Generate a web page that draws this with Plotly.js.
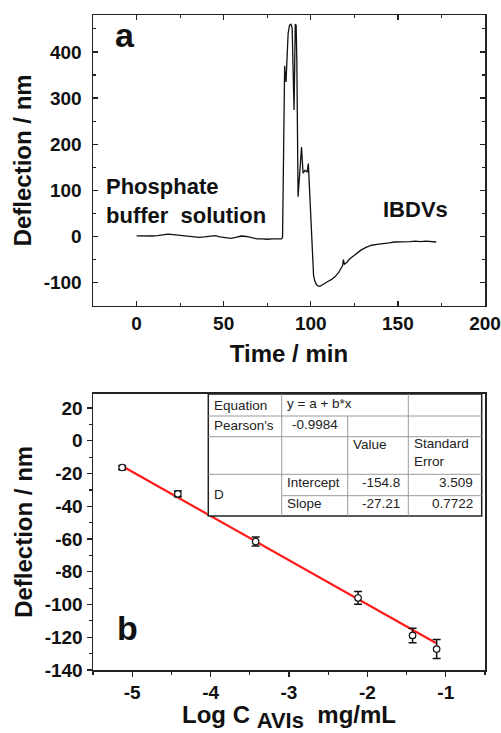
<!DOCTYPE html>
<html>
<head>
<meta charset="utf-8">
<script src="https://cdn.plot.ly/plotly-3.0.1.min.js"></script>
<style>html,body{margin:0;padding:0;background:#fff;}#chart{width:501px;height:733px;}</style>
</head>
<body>
<div id="chart"></div>
<script>
// ---- Panel a: deflection vs time ----
const timeMin = [0,3,6,9,12,15,18,21,24,27,30,33,36,39,42,45,48,51,54,57,60,63,66,69,72,75,78,81,
  83.3,83.8,84.3,84.7,85.0,85.4,85.8,86.3,87.0,87.8,88.6,89.3,89.9,90.4,90.8,91.1,91.6,92.0,92.7,93.5,94.1,94.7,95.2,95.6,96.6,97.9,98.6,99.2,99.8,100.4,101.0,101.6,102.3,103.2,104.2,105.2,106.5,
  108,110,112,114,116,117.5,118.3,118.7,119.3,120.5,122,124.3,126.5,129,132,135,138,141.5,145,148,151,154,157,160,163,166,169,172];
const deflectionA = [1.5,1,0.5,1,2,4,5,4,3,1,0,-1,-2,-1,0,2,-1,-3,-4,-2,1,0,-3,-5,-5,-6,-5,-5,
  -5,-2,150,330,370,345,335,380,440,458,460,452,370,274,380,460,458,380,86,140,180,194,160,137,143,140,158,110,45,7,-65,-85,-96,-104,-107,-108,-105,
  -101,-97,-93,-87,-78,-70,-63,-50,-60,-57,-50,-43,-36,-29,-23,-19,-17,-16,-14,-12,-12,-11,-11,-10,-11,-10,-11,-12];
const xTicksA = [0,50,100,150,200];
const xTickTextA = ["0","50","100","150","200"];
const yTicksA = [-100,0,100,200,300,400];
const yTickTextA = ["-100","0","100","200","300","400"];

// ---- Panel b: calibration ----
const logC = [-5.128,-4.418,-3.425,-2.119,-1.424,-1.117];
const deflectionB = [-16.3,-32.4,-61.5,-96.0,-118.9,-127.2];
const deflectionErr = [1.3,1.7,2.8,3.9,4.4,5.8];
const fitX = [-5.107,-1.126];
const fitY = [-16.0,-123.5];
const xTicksB = [-5,-4,-3,-2,-1];
const xTickTextB = ["-5","-4","-3","-2","-1"];
const yTicksB = [-140,-120,-100,-80,-60,-40,-20,0,20];
const yTickTextB = ["-140","-120","-100","-80","-60","-40","-20","0","20"];

// ---- Fit table text ----
const tableRow1 = ["Equation","y = a + b*x"];
const tableRow2 = ["Pearson's","-0.9984"];
const tableHead = ["Value","Standard<br>Error"];
const tableRowLabel = "D";
const paramNames = ["Intercept","Slope"];
const paramValues = ["-154.8","-27.21"];
const paramErrors = ["3.509","0.7722"];

const FONT = "Liberation Sans, Arial, Helvetica, sans-serif";
const W = 501, H = 733, ML = 93, MR = 16, MT = 15, MB = 63;
const PW = W - ML - MR, PH = H - MT - MB;
const px = v => (v - ML) / PW;
const py = v => (H - MB - v) / PH;

const traces = [
  {x: timeMin, y: deflectionA, xaxis:'x', yaxis:'y', mode:'lines',
   line:{color:'#111', width:1.3}, hoverinfo:'skip', showlegend:false},
  {x: fitX, y: fitY, xaxis:'x2', yaxis:'y2', mode:'lines',
   line:{color:'#ff1a1a', width:2.2}, showlegend:false},
  {x: logC, y: deflectionB, xaxis:'x2', yaxis:'y2', mode:'markers',
   marker:{symbol:'circle', size:6.5, color:'#fff', line:{color:'#111', width:1.2}},
   error_y:{type:'data', array: deflectionErr, visible:true, color:'#111', thickness:1.5, width:4},
   showlegend:false}
];

const tickFont = {family: FONT, size: 19, color:'#111', weight: 700};
const titleFont = {family: FONT, size: 24, color:'#111', weight: 700};
const common = {showline:true, linecolor:'#222', linewidth:1.5, showgrid:false, zeroline:false,
  tickcolor:'#222', tickwidth:1.3, tickfont: tickFont, tickmode:'array'};

// table shapes
const cx = [208.3, 281.7, 347.7, 408.3, 481.7];
const ry = [394, 416, 436.7, 474.3, 495.7, 516];
const shapes = [];
shapes.push({type:'rect', xref:'paper', yref:'paper', x0:px(cx[0]), x1:px(cx[4]), y0:py(ry[0]), y1:py(ry[5]),
  fillcolor:'#fff', line:{color:'#222', width:1.5}, layer:'above'});
const thin = {color:'#9a9a9a', width:1};
function hl(y, xa, xb){ shapes.push({type:'line', xref:'paper', yref:'paper', x0:px(xa), x1:px(xb), y0:py(y), y1:py(y), line:thin, layer:'above'}); }
function vl(x, ya, yb){ shapes.push({type:'line', xref:'paper', yref:'paper', x0:px(x), x1:px(x), y0:py(ya), y1:py(yb), line:thin, layer:'above'}); }
hl(ry[1], cx[0], cx[4]); hl(ry[2], cx[0], cx[4]); hl(ry[3], cx[0], cx[4]); hl(ry[4], cx[1], cx[4]);
vl(cx[1], ry[0], ry[5]); vl(cx[2], ry[1], ry[5]); vl(cx[3], ry[0], ry[5]);

const tf = {family: FONT, size: 13.5, color:'#222'};
function ta(text, x, y, anchor){ return {text, xref:'paper', yref:'paper', x:px(x), y:py(y), xanchor:anchor, yanchor:'middle', showarrow:false, font:tf, align:'left'}; }
const annotations = [
  ta(tableRow1[0], 212, 405, 'left'),
  ta(tableRow1[1], 285, 403, 'left'),
  ta(tableRow2[0], 212, 425.5, 'left'),
  ta(tableRow2[1], 314.7, 424.5, 'center'),
  ta(tableHead[0], 350.5, 444, 'left'),
  {text: tableHead[1], xref:'paper', yref:'paper', x:px(411.5), y:py(452.5), xanchor:'left', yanchor:'middle', showarrow:false, font:tf, align:'left'},
  ta(tableRowLabel, 212, 494, 'left'),
  ta(paramNames[0], 285, 482.5, 'left'),
  ta(paramNames[1], 285, 503.5, 'left'),
  ta(paramValues[0], 401.5, 482.5, 'right'),
  ta(paramValues[1], 401.5, 503.5, 'right'),
  ta(paramErrors[0], 475, 482.5, 'right'),
  ta(paramErrors[1], 475, 503.5, 'right'),
  // panel labels
  {text:'a', xref:'x', yref:'y', x:-6.7, y:437, xanchor:'center', yanchor:'middle', showarrow:false, font:{family:FONT, size:34, color:'#111', weight:700}},
  {text:'b', xref:'x2', yref:'y2', x:-5.064, y:-114.5, xanchor:'center', yanchor:'middle', showarrow:false, font:{family:FONT, size:34, color:'#111', weight:700}},
  {text:'Phosphate<br>buffer  solution', xref:'x', yref:'y', x:-18.6, y:(236.7-200.8)/0.4626, xanchor:'left', yanchor:'middle', align:'left', showarrow:false, font:{family:FONT, size:22, color:'#111', weight:700}},
  {text:'IBDVs', xref:'x', yref:'y', x:(415.5-136.7)/1.743, y:(236.7-210)/0.4626, xanchor:'center', yanchor:'middle', showarrow:false, font:{family:FONT, size:22, color:'#111', weight:700}}
];

const layout = {
  width: W, height: H,
  margin:{l:ML, r:MR, t:MT, b:MB, pad:0},
  paper_bgcolor:'#fff', plot_bgcolor:'#fff',
  showlegend:false,
  xaxis: Object.assign({}, common, {domain:[0,1], anchor:'y', range:[-25,200], tickvals:xTicksA, ticktext:xTickTextA,
    ticks:'inside', ticklen:5, mirror:'ticks', minor:{ticks:'inside', ticklen:3, dtick:25, tick0:0, tickcolor:'#222', tickwidth:1.1},
    ticklabelstandoff: 0,
    title:{text:'Time / min', font:titleFont, standoff:12}}),
  yaxis: Object.assign({}, common, {domain:[py(305.7),1], anchor:'x', range:[-150,480], tickvals:yTicksA, ticktext:yTickTextA,
    ticks:'inside', ticklen:5, mirror:'ticks', minor:{ticks:'inside', ticklen:3, dtick:50, tick0:0, tickcolor:'#222', tickwidth:1.1},
    ticklabelstandoff: 6,
    title:{text:'Deflection / nm', font:titleFont, standoff:5}}),
  xaxis2: Object.assign({}, common, {domain:[0,1], anchor:'y2', range:[-5.5,-0.5], tickvals:xTicksB, ticktext:xTickTextB,
    ticks:'outside', ticklen:5, mirror:true, minor:{ticks:'outside', ticklen:3, dtick:0.5, tick0:0, tickcolor:'#222', tickwidth:1.1},
    title:{text:'Log C <sub><span style="font-size:22px">AVIs</span></sub>&nbsp; mg/mL', font:titleFont, standoff:13}}),
  yaxis2: Object.assign({}, common, {domain:[0,py(393.7)], anchor:'x2', range:[-140,28.8], tickvals:yTicksB, ticktext:yTickTextB,
    ticks:'outside', ticklen:5, mirror:true, minor:{ticks:'outside', ticklen:3, dtick:10, tick0:0, tickcolor:'#222', tickwidth:1.1},
    title:{text:'Deflection / nm', font:titleFont, standoff:5}}),
  xaxis3: {overlaying:'x2', anchor:'y2', side:'top', range:[-5.5,-0.5], dtick:1, tick0:-5, ticks:'inside', ticklen:5,
    tickcolor:'#222', tickwidth:1.3, showticklabels:false, showline:false, showgrid:false, zeroline:false,
    minor:{ticks:'inside', ticklen:3, dtick:0.5, tickcolor:'#222', tickwidth:1.1}},
  yaxis3: {overlaying:'y2', anchor:'x2', side:'right', range:[-140,28.8], dtick:20, tick0:0, ticks:'inside', ticklen:5,
    tickcolor:'#222', tickwidth:1.3, showticklabels:false, showline:false, showgrid:false, zeroline:false,
    minor:{ticks:'inside', ticklen:3, dtick:10, tickcolor:'#222', tickwidth:1.1}},
  shapes, annotations
};

Plotly.newPlot('chart', traces, layout, {staticPlot:true, displayModeBar:false});
</script>
</body>
</html>
